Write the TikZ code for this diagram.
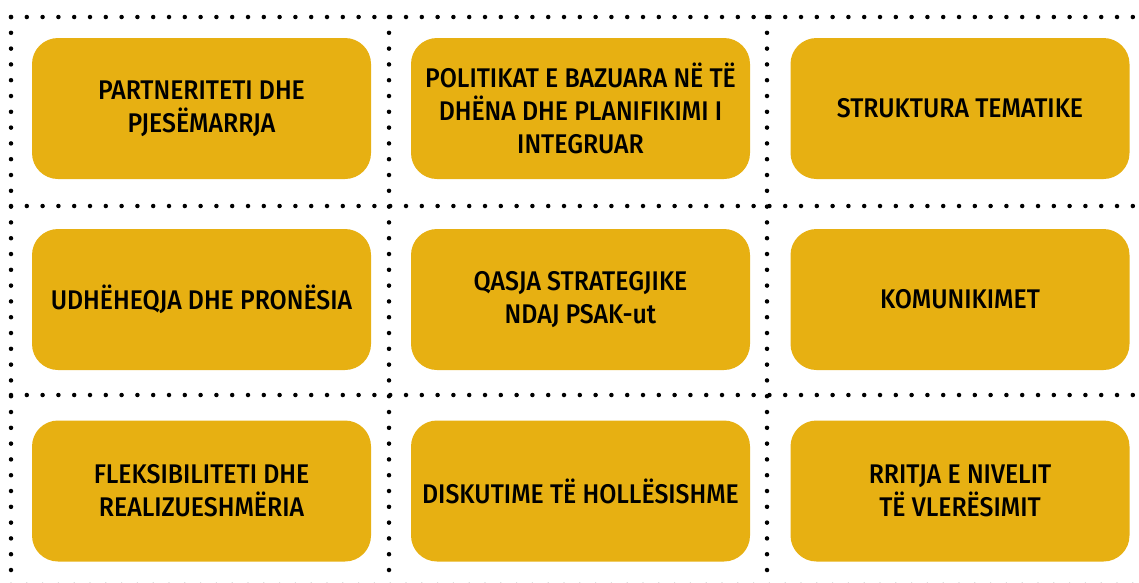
\documentclass[tikz,border=0pt]{standalone}
\usepackage{fontspec}
\setmainfont{Fira Sans Medium}[FakeStretch=0.92]
\usetikzlibrary{positioning}
\definecolor{boxgold}{RGB}{231,176,18}

\begin{document}
\begin{tikzpicture}[x=1pt, y=-1pt,
    topic/.style={rectangle, fill=boxgold, minimum width=339pt, minimum height=141pt, rounded corners=26pt, align=center, text=black, font=\fontsize{27}{33}\selectfont},
    dotline/.style={line width=4.5pt, line cap=round, dash pattern=on 0pt off 15.8pt}
]
\useasboundingbox (0,0) rectangle (1139,582);

% Dotted grid
\draw[dotline] (11,17) -- (1139,17);
\draw[dotline] (11,206) -- (1139,206);
\draw[dotline] (11,395) -- (1139,395);
\draw[dotline] (11,585) -- (1139,585);
\draw[dotline] (11,17) -- (11,582);
\draw[dotline] (389,17) -- (389,582);
\draw[dotline] (767,17) -- (767,582);

% Row 1
\node[topic] (partner) at (201.5,108.5) {PARTNERITETI DHE\\PJESËMARRJA};
\node[topic] (politika) at (580.5,108.5) {POLITIKAT E BAZUARA NË TË\\DHËNA DHE PLANIFIKIMI I\\INTEGRUAR};
\node[topic] (struktura) at (960,108.5) {STRUKTURA TEMATIKE};

% Row 2
\node[topic] (udheheqja) at (201.5,299.5) {UDHËHEQJA DHE PRONËSIA};
\node[topic] (qasja) at (580.5,299.5) {QASJA STRATEGJIKE\\NDAJ PSAK-ut};
\node[topic] (komunikimet) at (960,299.5) {KOMUNIKIMET};

% Row 3
\node[topic] (fleksibiliteti) at (201.5,491) {FLEKSIBILITETI DHE\\REALIZUESHMËRIA};
\node[topic] (diskutime) at (580.5,491) {DISKUTIME TË HOLLËSISHME};
\node[topic] (rritja) at (960,491) {RRITJA E NIVELIT\\TË VLERËSIMIT};

\end{tikzpicture}
\end{document}
